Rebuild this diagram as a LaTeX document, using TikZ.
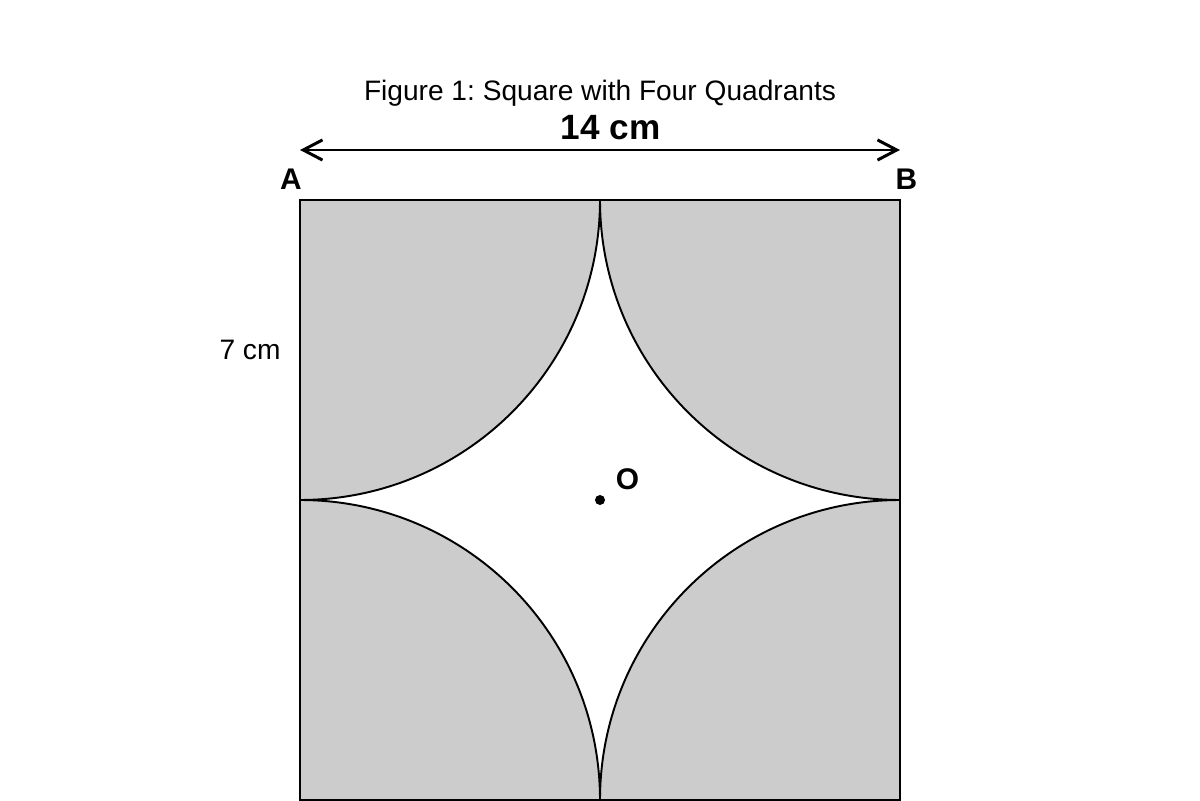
\documentclass[tikz,border=0pt]{standalone}
\usepackage{fontspec}
\setmainfont{Liberation Sans}
\usetikzlibrary{arrows.meta}
\tikzset{
  quad/.style={fill=black!20},
  edge/.style={line width=1.1pt},
  lbl/.style={font=\fontsize{16}{19}\selectfont},
  blbl/.style={font=\fontsize{17}{20}\selectfont\bfseries},
  barb/.tip={Straight Barb[length=11pt,width=11.5pt,line width=1.7pt]},
}
\frenchspacing
\begin{document}
\begin{tikzpicture}
  \useasboundingbox (-12,-6) rectangle (12,10);
  % shaded quadrants at the corners
  \fill[quad] (-6,6) -- (0,6) arc (0:-90:6) -- cycle;
  \fill[quad] (6,6) -- (6,0) arc (270:180:6) -- cycle;
  \fill[quad] (-6,-6) -- (-6,0) arc (90:0:6) -- cycle;
  \fill[quad] (6,-6) -- (0,-6) arc (180:90:6) -- cycle;
  \begin{scope}[edge]
    \draw (0,6) arc (0:-90:6);
    \draw (6,0) arc (270:180:6);
    \draw (-6,0) arc (90:0:6);
    \draw (0,-6) arc (180:90:6);
    \draw (-6,-6) rectangle (6,6);
  \end{scope}
  \draw
    (0,8.13) node[lbl] (title){Figure 1: Square with Four Quadrants}
    (0.21,7.44) node[font=\fontsize{20}{24}\selectfont\bfseries] (len){14 cm}
    (-6.18,6.42) node[blbl] (A){A}
    (6.13,6.42) node[blbl] (B){B}
    (-7,3) node[lbl] (side){7 cm}
    (0.55,0.42) node[blbl] (Olbl){O};
  \fill (0,0) circle (0.1) coordinate (O);
  \coordinate (left) at (-6,7);
  \coordinate (right) at (6,7);
  \draw[edge,barb-barb] (left) -- (right);
\end{tikzpicture}
\end{document}
